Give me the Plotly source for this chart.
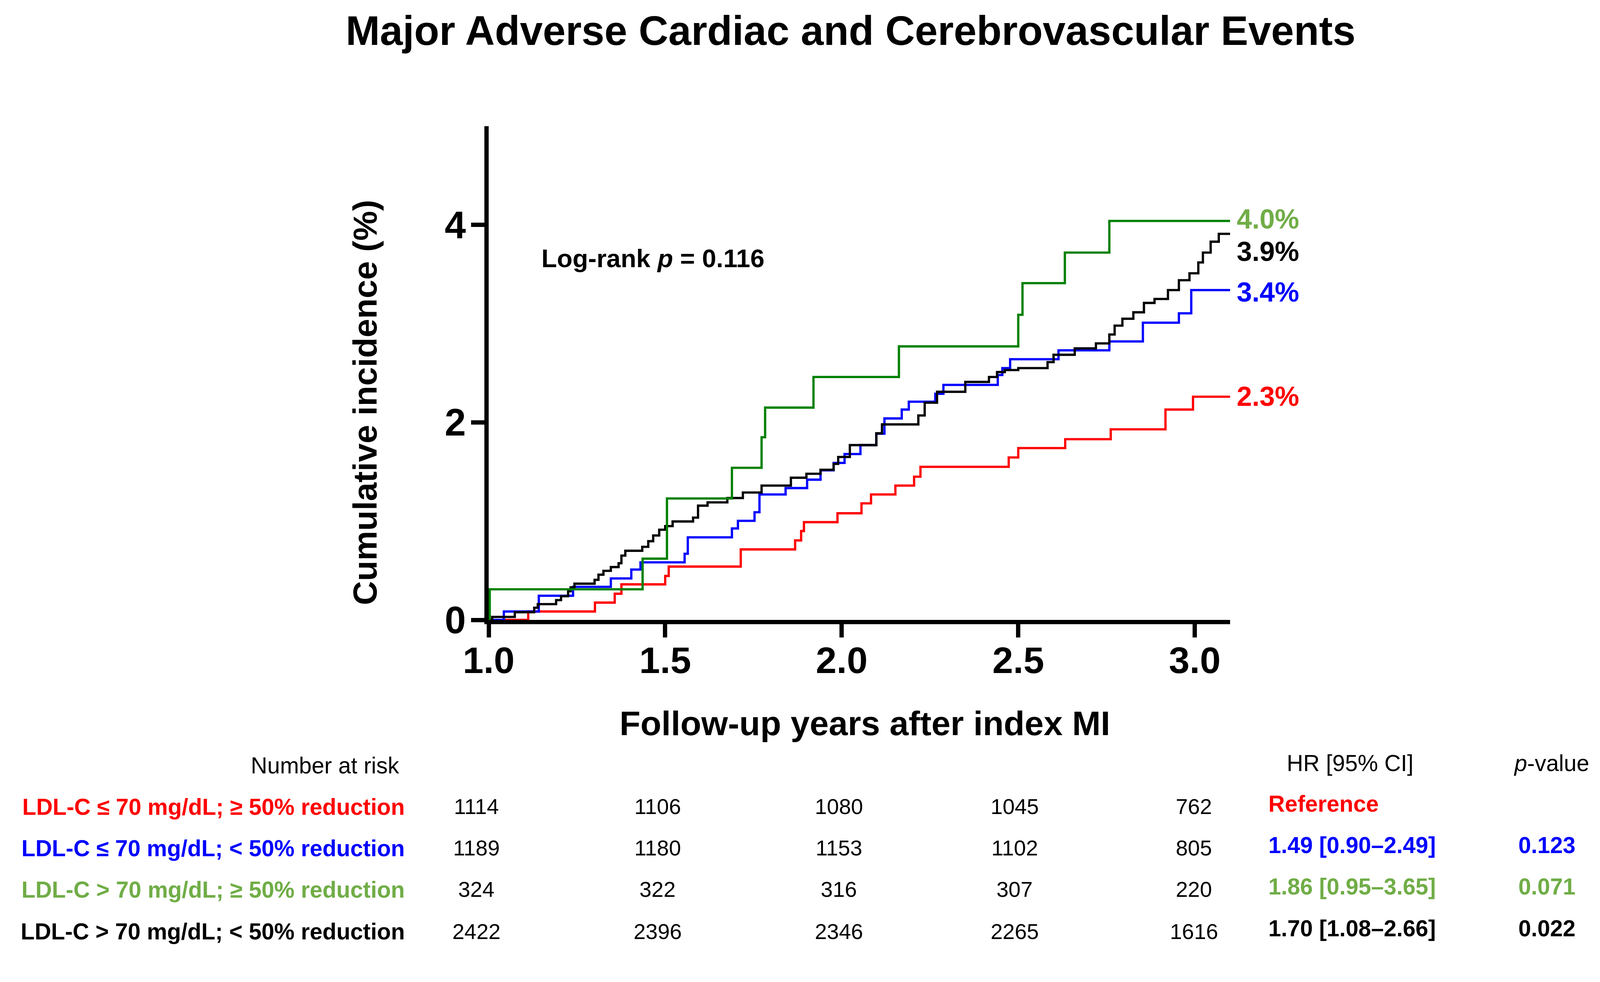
import plotly.graph_objects as go

# ---------------- data ----------------
groups = ["LDL-C ≤ 70 mg/dL; ≥ 50% reduction",
          "LDL-C ≤ 70 mg/dL; < 50% reduction",
          "LDL-C > 70 mg/dL; ≥ 50% reduction",
          "LDL-C > 70 mg/dL; < 50% reduction"]

red_t = [1.0, 1.112, 1.301, 1.357, 1.376, 1.50, 1.51, 1.714, 1.868, 1.885, 1.893, 1.988, 2.056, 2.083,
         2.152, 2.205, 2.223, 2.473, 2.50, 2.633, 2.762, 2.917, 2.995, 3.10]
red_y = [0, 0.085, 0.175, 0.265, 0.36, 0.445, 0.54, 0.714, 0.805, 0.90, 0.99, 1.08, 1.18, 1.27,
         1.36, 1.45, 1.55, 1.645, 1.74, 1.83, 1.93, 2.13, 2.26, 2.26]

blue_t = [1.0, 1.043, 1.142, 1.239, 1.346, 1.404, 1.43, 1.555, 1.564, 1.689, 1.706, 1.753, 1.767, 1.841,
          1.902, 1.94, 1.977, 2.008, 2.053, 2.098, 2.121, 2.17, 2.19, 2.265, 2.288, 2.442, 2.455, 2.477,
          2.614, 2.758, 2.853, 2.955, 2.99, 3.10]
blue_y = [0, 0.085, 0.245, 0.335, 0.42, 0.51, 0.583, 0.67, 0.836, 0.926, 1.003, 1.09, 1.27, 1.335,
          1.42, 1.515, 1.59, 1.68, 1.77, 1.886, 2.04, 2.13, 2.21, 2.29, 2.38, 2.48, 2.55, 2.64,
          2.73, 2.82, 3.01, 3.105, 3.34, 3.34]

green_t = [1.0, 1.003, 1.436, 1.505, 1.689, 1.773, 1.783, 1.92, 2.162, 2.50, 2.512, 2.632, 2.758, 3.10]
green_y = [0, 0.31, 0.62, 1.23, 1.54, 1.85, 2.15, 2.46, 2.77, 3.09, 3.41, 3.72, 4.04, 4.04]

black_t = [1.0, 1.01, 1.074, 1.129, 1.139, 1.191, 1.205, 1.225, 1.232, 1.243, 1.30, 1.311, 1.325, 1.346,
           1.368, 1.376, 1.387, 1.435, 1.452, 1.466, 1.483, 1.50, 1.521, 1.579, 1.593, 1.62, 1.676, 1.72,
           1.773, 1.856, 1.90, 1.94, 1.977, 1.99, 2.023, 2.098, 2.114, 2.217, 2.235, 2.27, 2.35, 2.417,
           2.44, 2.462, 2.5, 2.583, 2.6, 2.66, 2.72, 2.758, 2.773, 2.795, 2.826, 2.856, 2.886, 2.924,
           2.955, 2.985, 3.01, 3.023, 3.045, 3.068, 3.10]
black_y = [0, 0.03, 0.078, 0.123, 0.16, 0.2, 0.24, 0.29, 0.33, 0.367, 0.406, 0.458, 0.497, 0.535,
           0.574, 0.651, 0.70, 0.74, 0.797, 0.855, 0.913, 0.95, 0.997, 1.036, 1.157, 1.19, 1.234, 1.29,
           1.36, 1.44, 1.48, 1.52, 1.58, 1.65, 1.77, 1.89, 1.98, 2.07, 2.20, 2.31, 2.41, 2.46,
           2.51, 2.53, 2.55, 2.61, 2.685, 2.75, 2.80, 2.89, 2.98, 3.05, 3.115, 3.21, 3.25, 3.34,
           3.44, 3.51, 3.62, 3.72, 3.83, 3.91, 3.91]

end_labels = ["2.3%", "3.4%", "4.0%", "3.9%"]

risk_times = [1.0, 1.5, 2.0, 2.5, 3.0]
risk_red = [1114, 1106, 1080, 1045, 762]
risk_blue = [1189, 1180, 1153, 1102, 805]
risk_green = [324, 322, 316, 307, 220]
risk_black = [2422, 2396, 2346, 2265, 1616]

hr_text = ["Reference", "1.49 [0.90–2.49]", "1.86 [0.95–3.65]", "1.70 [1.08–2.66]"]
p_text = ["", "0.123", "0.071", "0.022"]

x_ticks = [1.0, 1.5, 2.0, 2.5, 3.0]
x_ticklabels = ["1.0", "1.5", "2.0", "2.5", "3.0"]
y_ticks = [0, 2, 4]
y_ticklabels = ["0", "2", "4"]

# ---------------- styling ----------------
FONT = "Arial, Liberation Sans, sans-serif"
line_colors = ["#FF0000", "#0000FF", "#008000", "#000000"]
text_colors = ["#FF0000", "#0000FF", "#70AD47", "#000000"]

S = 1 / 1.027          # page-to-photo scale compensation
W, H = 4198, 2514      # reference pixel frame
L, R_EDGE, T, B_EDGE = 1277, 3225, 324, 1622


def s(v):
    return v * S


def px_x(p):
    return (p - L) / (R_EDGE - L)


def px_y(p):
    return (B_EDGE - p) / (B_EDGE - T)


fig = go.Figure()

curves = [(red_t, red_y), (blue_t, blue_y), (green_t, green_y), (black_t, black_y)]
for i in [0, 1, 3, 2]:
    t, y = curves[i]
    fig.add_trace(go.Scatter(x=t, y=y, mode="lines", line=dict(color=line_colors[i], width=s(6), shape="hv"),
                             name=groups[i], showlegend=False, hoverinfo="skip"))

annotations = []

# end-of-curve labels
end_label_py = [1035, 760, 568, 654]
for i in range(4):
    annotations.append(dict(x=px_x(3240), y=px_y(end_label_py[i]), xref="paper", yref="paper",
                            text="<b>%s</b>" % end_labels[i],
                            showarrow=False, xanchor="left", yanchor="middle",
                            font=dict(family=FONT, size=s(72), color=text_colors[i])))

# log-rank text
annotations.append(dict(x=px_x(1414), y=px_y(672), xref="paper", yref="paper",
                        text="<b>Log-rank <i>p</i> = 0.116</b>",
                        showarrow=False, xanchor="left", yanchor="middle",
                        font=dict(family=FONT, size=s(67), color="black")))

# axis titles
annotations.append(dict(x=px_x(2265), y=px_y(1894), xref="paper", yref="paper",
                        text="<b>Follow-up years after index MI</b>", showarrow=False,
                        xanchor="center", yanchor="middle", font=dict(family=FONT, size=s(90), color="black")))
annotations.append(dict(x=px_x(952), y=px_y(1050), xref="paper", yref="paper",
                        text="<b>Cumulative incidence (%)</b>", showarrow=False, textangle=-90,
                        xanchor="center", yanchor="middle", font=dict(family=FONT, size=s(88), color="black")))

# number at risk table
annotations.append(dict(x=px_x(1045), y=px_y(2005), xref="paper", yref="paper", text="Number at risk",
                        showarrow=False, xanchor="right", yanchor="middle",
                        font=dict(family=FONT, size=s(60), color="black")))
annotations.append(dict(x=px_x(3541), y=px_y(1998), xref="paper", yref="paper", text="HR [95% CI]",
                        showarrow=False, xanchor="center", yanchor="middle",
                        font=dict(family=FONT, size=s(60), color="black")))
annotations.append(dict(x=px_x(4070), y=px_y(1998), xref="paper", yref="paper", text="<i>p</i>-value",
                        showarrow=False, xanchor="center", yanchor="middle",
                        font=dict(family=FONT, size=s(60), color="black")))

row_py = [2113, 2222, 2331, 2441]
col_shift = [-32, -20, -8, -9, -2]
risk_rows = [risk_red, risk_blue, risk_green, risk_black]
for i in range(4):
    annotations.append(dict(x=px_x(1058), y=px_y(row_py[i]), xref="paper", yref="paper",
                            text="<b>%s</b>" % groups[i], showarrow=False, xanchor="right", yanchor="middle",
                            font=dict(family=FONT, size=s(60), color=text_colors[i])))
    for j, tval in enumerate(risk_times):
        annotations.append(dict(x=tval, y=px_y(row_py[i]), xref="x", yref="paper", xshift=s(col_shift[j]),
                                text=str(risk_rows[i][j]), showarrow=False, xanchor="center",
                                yanchor="middle", font=dict(family=FONT, size=s(57), color="black")))
    annotations.append(dict(x=px_x(3324), y=px_y(row_py[i] - 8), xref="paper", yref="paper",
                            text="<b>%s</b>" % hr_text[i], showarrow=False, xanchor="left", yanchor="middle",
                            font=dict(family=FONT, size=s(60), color=text_colors[i])))
    if p_text[i]:
        annotations.append(dict(x=px_x(3980), y=px_y(row_py[i] - 8), xref="paper", yref="paper",
                                text="<b>%s</b>" % p_text[i], showarrow=False, xanchor="left",
                                yanchor="middle", font=dict(family=FONT, size=s(60), color=text_colors[i])))

fig.update_layout(
    width=round(s(W)), height=round(s(H)),
    margin=dict(l=s(L), r=s(W - R_EDGE), t=s(T), b=s(H - B_EDGE), pad=0),
    paper_bgcolor="white", plot_bgcolor="white",
    title=dict(text="<b>Major Adverse Cardiac and Cerebrovascular Events</b>", x=2228 / W, xref="container",
               xanchor="center", y=1 - 72 / H, yref="container", yanchor="middle",
               font=dict(family=FONT, size=s(108), color="black")),
    annotations=annotations,
    showlegend=False,
)

fig.update_xaxes(range=[1.0, 3.1], showgrid=False, zeroline=False, showline=True, linecolor="black",
                 linewidth=s(11), ticks="outside", ticklen=s(35), tickwidth=s(11), tickcolor="black",
                 tickvals=x_ticks, ticktext=["<b>%s</b>" % v for v in x_ticklabels],
                 tickfont=dict(family=FONT, size=s(98), color="black"), ticklabelstandoff=int(round(s(-24))))
fig.update_yaxes(range=[0, 5], showgrid=False, zeroline=False, showline=True, linecolor="black",
                 linewidth=s(11), ticks="outside", ticklen=s(35), tickwidth=s(11), tickcolor="black",
                 tickvals=y_ticks, ticktext=["<b>%s</b>" % v for v in y_ticklabels],
                 tickfont=dict(family=FONT, size=s(100), color="black"), ticklabelstandoff=int(round(s(-6))))

fig.write_html("out.html", config={"displayModeBar": False})
